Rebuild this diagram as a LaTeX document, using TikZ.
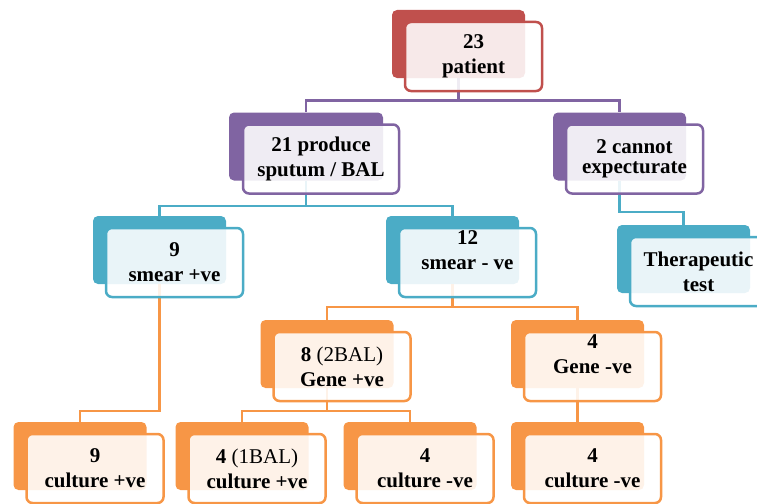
\documentclass[tikz,border=0pt]{standalone}
\usepackage{fontspec}
\setmainfont{Liberation Serif}
\usepackage{xcolor}
\usepackage{tikz}
\usetikzlibrary{positioning}
\definecolor{arbre_red}{RGB}{192, 80, 77}
\definecolor{arbre_purple}{RGB}{128, 100, 162}
\definecolor{arbre_teal}{RGB}{75, 172, 198}
\definecolor{arbre_orange}{RGB}{247, 150, 70}

\begin{document}
\begin{tikzpicture}[x=1pt, y=-1pt,
    font=\fontsize{21}{25}\selectfont\bfseries,
    backbox/.style={fill=#1, rounded corners=5pt, minimum width=133pt,
      minimum height=68pt, inner sep=0pt},
    frontbox/.style={draw=#1, line width=2.5pt, fill=white, fill opacity=0.88,
      text opacity=1, rounded corners=6pt, minimum width=137pt,
      minimum height=69pt, inner sep=0pt, align=center},
    link/.style={draw=#1, line width=2.5pt}]
  \useasboundingbox (0,0) rectangle (757,503);
  % Rectangles de fond
  \node[backbox=arbre_red]    (pat)   at (458.5,44)  {};
  \node[backbox=arbre_purple, minimum width=154pt] (sput) at (306,146.5) {};
  \node[backbox=arbre_purple] (cannot) at (619.5,146.5) {};
  \node[backbox=arbre_teal]   (smpos) at (159.5,250) {};
  \node[backbox=arbre_teal]   (smneg) at (452.5,250) {};
  \node[backbox=arbre_teal]   (thera) at (683.5,259) {};
  \node[backbox=arbre_orange] (genpos) at (327,354)  {};
  \node[backbox=arbre_orange] (genneg) at (577.5,354) {};
  \node[backbox=arbre_orange] (cult1) at (80,456)    {};
  \node[backbox=arbre_orange] (cult2) at (242,456)   {};
  \node[backbox=arbre_orange] (cult3) at (410,456)   {};
  \node[backbox=arbre_orange] (cult4) at (577.5,456) {};
  % Liaisons
  \draw[link=arbre_purple] (pat.south) |- ([yshift=12pt]sput.north) -- (sput.north);
  \draw[link=arbre_purple] (pat.south) |- ([yshift=12pt]cannot.north) -- (cannot.north);
  \draw[link=arbre_teal] (sput.south) |- ([yshift=10pt]smpos.north) -- (smpos.north);
  \draw[link=arbre_teal] (sput.south) |- ([yshift=10pt]smneg.north) -- (smneg.north);
  \draw[link=arbre_teal] (cannot.south) |- ([yshift=13pt]thera.north) -- (thera.north);
  \draw[link=arbre_orange] (smneg.south) |- ([yshift=13pt]genpos.north) -- (genpos.north);
  \draw[link=arbre_orange] (smneg.south) |- ([yshift=13pt]genneg.north) -- (genneg.north);
  \draw[link=arbre_orange] (smpos.south) |- ([yshift=11pt]cult1.north) -- (cult1.north);
  \draw[link=arbre_orange] (genpos.south) |- ([yshift=11pt]cult2.north) -- (cult2.north);
  \draw[link=arbre_orange] (genpos.south) |- ([yshift=11pt]cult3.north) -- (cult3.north);
  \draw[link=arbre_orange] (genneg.south) -- (cult4.north);
  % Boites avec texte
  \node[frontbox=arbre_red] (patT) at ([xshift=15pt,yshift=-12.5pt]pat.center)
    {23\\patient};
  \node[frontbox=arbre_purple, minimum width=156pt] (sputT)
    at ([xshift=15pt,yshift=-12.5pt]sput.center) {21 produce\\sputum / BAL};
  \node[frontbox=arbre_purple] (cannotT) at ([xshift=15pt,yshift=-12.5pt]cannot.center)
    {2 cannot\\[-5pt]expecturate};
  \node[frontbox=arbre_teal] (smposT) at ([xshift=15pt,yshift=-12.5pt]smpos.center)
    {9\\smear +ve};
  \node[frontbox=arbre_teal] (smnegT) at ([xshift=15pt,yshift=-12.5pt]smneg.center)
    {12\\smear - ve\\\mbox{}};
  \node[frontbox=arbre_teal] (theraT) at ([xshift=15pt,yshift=-12.5pt]thera.center)
    {Therapeutic\\test};
  \node[frontbox=arbre_orange] (genposT) at ([xshift=15pt,yshift=-12.5pt]genpos.center)
    {8 \textmd{(2BAL)}\\Gene +ve};
  \node[frontbox=arbre_orange] (gennegT) at ([xshift=15pt,yshift=-12.5pt]genneg.center)
    {4\\Gene -ve\\\mbox{}};
  \node[frontbox=arbre_orange] (cult1T) at ([xshift=15pt,yshift=-12.5pt]cult1.center)
    {9\\culture +ve};
  \node[frontbox=arbre_orange] (cult2T) at ([xshift=15pt,yshift=-12.5pt]cult2.center)
    {4 \textmd{(1BAL)}\\culture +ve};
  \node[frontbox=arbre_orange] (cult3T) at ([xshift=15pt,yshift=-12.5pt]cult3.center)
    {4\\culture -ve};
  \node[frontbox=arbre_orange] (cult4T) at ([xshift=15pt,yshift=-12.5pt]cult4.center)
    {4\\culture -ve};
\end{tikzpicture}
\end{document}
